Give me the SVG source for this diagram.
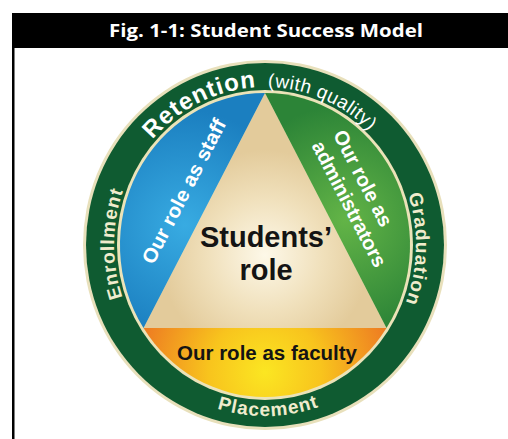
<svg xmlns="http://www.w3.org/2000/svg" width="508" height="439" viewBox="0 0 508 439">
  <style>
    .hdr { font-family: "Open Sans", "Liberation Sans", sans-serif; font-weight: 700; fill: #ffffff; }
    .ring-lbl { font-family: "Liberation Sans", Arial, sans-serif; font-weight: 700; fill: #efeccd; }
    .ring-top { font-family: "Liberation Sans", Arial, sans-serif; fill: #ffffff; }
    .seg-lbl { font-family: "Liberation Sans", Arial, sans-serif; font-weight: 700; fill: #ffffff; font-size: 20px; }
    .dark-lbl { font-family: "Liberation Sans", Arial, sans-serif; font-weight: 700; fill: #141414; }
  </style>
  <defs>
    <radialGradient id="gBlue" gradientUnits="userSpaceOnUse" cx="185" cy="225" r="115">
      <stop offset="0" stop-color="#38abe2"/>
      <stop offset="1" stop-color="#1b7fc0"/>
    </radialGradient>
    <radialGradient id="gGreen" gradientUnits="userSpaceOnUse" cx="345" cy="220" r="115">
      <stop offset="0" stop-color="#63b447"/>
      <stop offset="1" stop-color="#2c8437"/>
    </radialGradient>
    <radialGradient id="gOrange" gradientUnits="userSpaceOnUse" cx="265" cy="372" r="125">
      <stop offset="0" stop-color="#fbe622"/>
      <stop offset="0.45" stop-color="#f8c41d"/>
      <stop offset="1" stop-color="#ee7e22"/>
    </radialGradient>
    <radialGradient id="gBeige" gradientUnits="userSpaceOnUse" cx="265" cy="255" r="105">
      <stop offset="0" stop-color="#fdf8e8"/>
      <stop offset="0.55" stop-color="#f0e0bb"/>
      <stop offset="1" stop-color="#e3cb9b"/>
    </radialGradient>
    <!-- clockwise baseline for the ring labels, starting at the bottom -->
    <path id="ringCW" d="M 265 403 A 151 158 0 1 1 265 87 A 151 158 0 1 1 265 403"/>
    <!-- left-to-right baseline along the bottom of the ring -->
    <path id="ringBottom" d="M 99 245 A 166 171 0 0 0 431 245"/>
  </defs>

  <!-- title bar and frame -->
  <g id="header">
    <rect x="12" y="13" width="496" height="35" fill="#000000"/>
    <rect x="12" y="13" width="2.5" height="426" fill="#000000"/>
    <text class="hdr" x="266" y="37" font-size="18.5" text-anchor="middle" textLength="314" lengthAdjust="spacingAndGlyphs">Fig. 1-1: Student Success Model</text>
  </g>

  <!-- outer ring -->
  <g id="ring">
    <ellipse cx="265" cy="245" rx="182" ry="185" fill="#e8e0bb"/>
    <ellipse cx="265" cy="245" rx="179" ry="182" fill="#0f5b31"/>
    <ellipse cx="265" cy="245" rx="148" ry="155" fill="#ebe3b8"/>
  </g>

  <!-- inner disk segments -->
  <g id="students">
    <polygon points="265,93 143.5,328 386.5,328" fill="url(#gBeige)"/>
  </g>
  <g id="staff">
    <path d="M 265 93 L 143.5 328 A 145 152 0 0 1 265 93 Z" fill="url(#gBlue)"/>
  </g>
  <g id="administrators">
    <path d="M 265 93 A 145 152 0 0 1 386.5 328 Z" fill="url(#gGreen)"/>
  </g>
  <g id="faculty">
    <path d="M 386.5 328 A 145 152 0 0 1 143.5 328 Z" fill="url(#gOrange)"/>
  </g>

  <!-- segment labels -->
  <g id="students-label">
    <text class="dark-lbl" x="266" y="247" font-size="29" text-anchor="middle">Students’</text>
    <text class="dark-lbl" x="266" y="280" font-size="29" text-anchor="middle">role</text>
  </g>
  <g id="staff-label" transform="translate(143.5 328) rotate(-62.66)">
    <text class="seg-lbl" x="60" y="-20" textLength="160" lengthAdjust="spacingAndGlyphs">Our role as staff</text>
  </g>
  <g id="administrators-label" transform="translate(265 93) rotate(62.66)">
    <text class="seg-lbl" x="68" y="-41">Our role as</text>
    <text class="seg-lbl" x="68" y="-17">administrators</text>
  </g>
  <g id="faculty-label">
    <text class="dark-lbl" x="267" y="360" font-size="20.5" text-anchor="middle" textLength="180" lengthAdjust="spacingAndGlyphs">Our role as faculty</text>
  </g>

  <!-- ring labels -->
  <g id="ring-labels">
    <text class="ring-lbl" font-size="19" letter-spacing="1"><textPath href="#ringCW" startOffset="244" text-anchor="middle">Enrollment</textPath></text>
    <text class="ring-top" font-size="24" font-weight="700" letter-spacing="1"><textPath href="#ringCW" startOffset="417" text-anchor="middle">Retention</textPath></text>
    <text class="ring-top" font-size="19" letter-spacing="0.5"><textPath href="#ringCW" startOffset="545" text-anchor="middle">(with quality)</textPath></text>
    <text class="ring-lbl" font-size="19" letter-spacing="1"><textPath href="#ringCW" startOffset="732" text-anchor="middle">Graduation</textPath></text>
    <text class="ring-lbl" font-size="19" letter-spacing="1"><textPath href="#ringBottom" startOffset="268" text-anchor="middle">Placement</textPath></text>
  </g>
</svg>
